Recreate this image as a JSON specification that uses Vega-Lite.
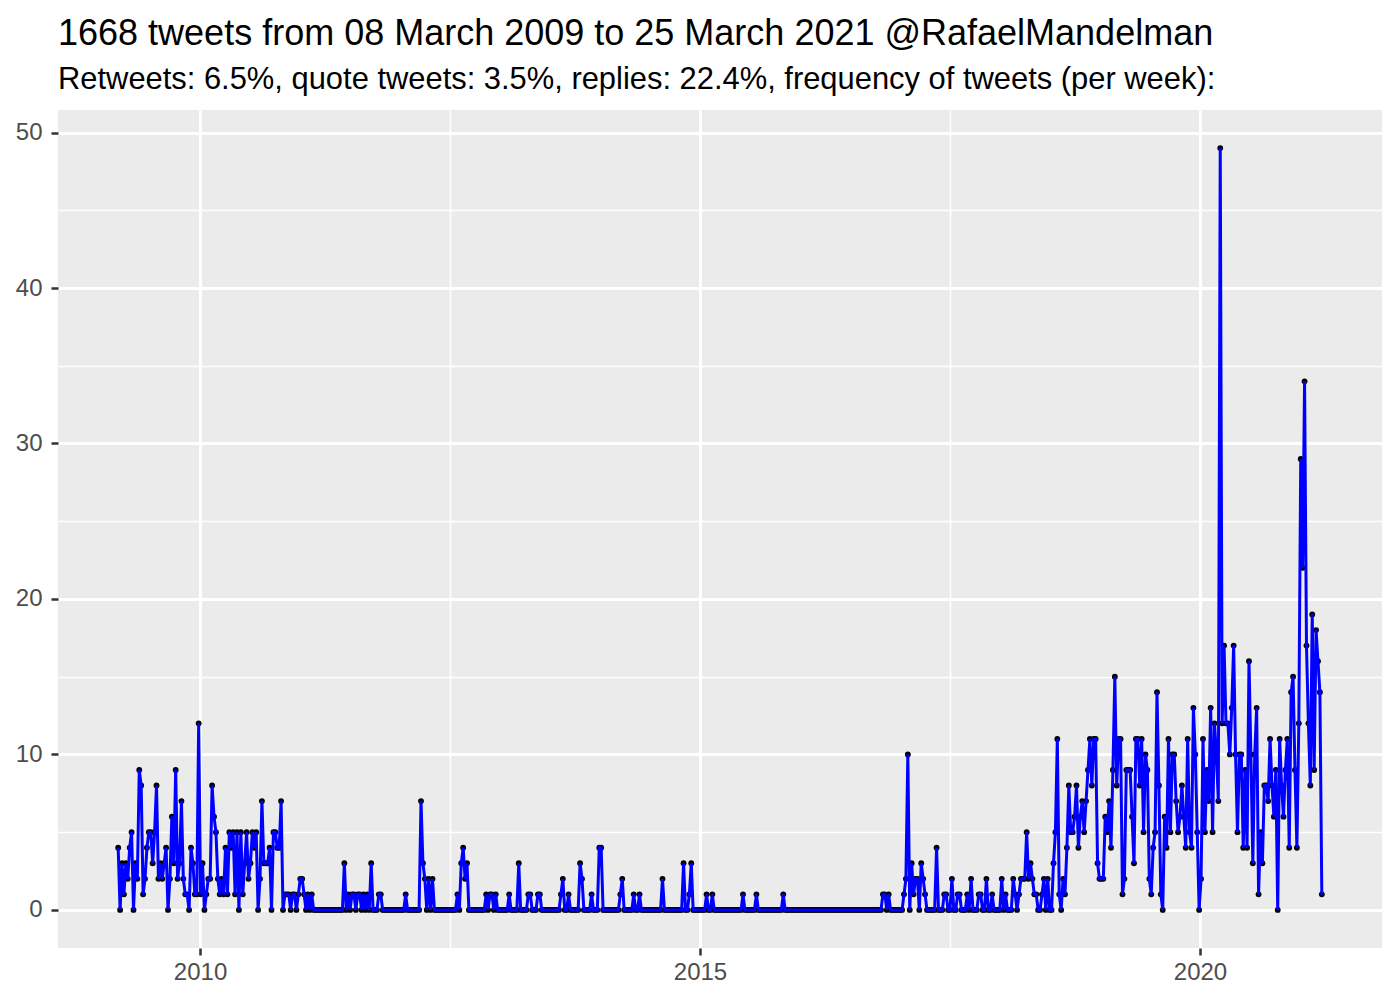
{
"$schema":"https://vega.github.io/schema/vega-lite/v6.json",
"width":1324,"height":838,
"autosize":{"type":"none"},
"padding":{"left":58,"top":110,"right":18,"bottom":52},
"background":"white",
"config":{"view":{"fill":"#EBEBEB","stroke":null},"font":"Liberation Sans"},
"title":{"text":"1668 tweets from 08 March 2009 to 25 March 2021 @RafaelMandelman","subtitle":"Retweets: 6.5%, quote tweets: 3.5%, replies: 22.4%, frequency of tweets (per week):","anchor":"start","frame":"group","fontSize":36,"fontWeight":"normal","color":"black","subtitleFontSize":30.9,"subtitleColor":"black","offset":14,"subtitlePadding":12},
"data":{"values":[
{"w":0,"n":4},{"w":1,"n":0},{"w":2,"n":3},{"w":3,"n":1},{"w":4,"n":3},{"w":5,"n":2},{"w":6,"n":4},{"w":7,"n":5},{"w":8,"n":0},{"w":9,"n":3},
{"w":10,"n":2},{"w":11,"n":9},{"w":12,"n":8},{"w":13,"n":1},{"w":14,"n":2},{"w":15,"n":4},{"w":16,"n":5},{"w":17,"n":5},{"w":18,"n":3},{"w":19,"n":5},
{"w":20,"n":8},{"w":21,"n":2},{"w":22,"n":3},{"w":23,"n":2},{"w":24,"n":3},{"w":25,"n":4},{"w":26,"n":0},{"w":27,"n":2},{"w":28,"n":6},{"w":29,"n":3},
{"w":30,"n":9},{"w":31,"n":2},{"w":32,"n":3},{"w":33,"n":7},{"w":34,"n":2},{"w":35,"n":1},{"w":36,"n":1},{"w":37,"n":0},{"w":38,"n":4},{"w":39,"n":3},
{"w":40,"n":1},{"w":41,"n":1},{"w":42,"n":12},{"w":43,"n":1},{"w":44,"n":3},{"w":45,"n":0},{"w":46,"n":1},{"w":47,"n":2},{"w":48,"n":2},{"w":49,"n":8},
{"w":50,"n":6},{"w":51,"n":5},{"w":52,"n":2},{"w":53,"n":1},{"w":54,"n":2},{"w":55,"n":1},{"w":56,"n":4},{"w":57,"n":1},{"w":58,"n":5},{"w":59,"n":4},
{"w":60,"n":5},{"w":61,"n":1},{"w":62,"n":5},{"w":63,"n":0},{"w":64,"n":5},{"w":65,"n":1},{"w":66,"n":3},{"w":67,"n":5},{"w":68,"n":2},{"w":69,"n":3},
{"w":70,"n":5},{"w":71,"n":4},{"w":72,"n":5},{"w":73,"n":0},{"w":74,"n":2},{"w":75,"n":7},{"w":76,"n":3},{"w":77,"n":3},{"w":78,"n":3},{"w":79,"n":4},
{"w":80,"n":0},{"w":81,"n":5},{"w":82,"n":5},{"w":83,"n":4},{"w":84,"n":4},{"w":85,"n":7},{"w":86,"n":0},{"w":87,"n":1},{"w":88,"n":1},{"w":89,"n":1},
{"w":90,"n":0},{"w":91,"n":1},{"w":92,"n":1},{"w":93,"n":0},{"w":94,"n":1},{"w":95,"n":2},{"w":96,"n":2},{"w":97,"n":1},{"w":98,"n":0},{"w":99,"n":1},
{"w":100,"n":0},{"w":101,"n":1},{"w":102,"n":0},{"w":103,"n":0},{"w":104,"n":0},{"w":105,"n":0},{"w":106,"n":0},{"w":107,"n":0},{"w":108,"n":0},{"w":109,"n":0},
{"w":110,"n":0},{"w":111,"n":0},{"w":112,"n":0},{"w":113,"n":0},{"w":114,"n":0},{"w":115,"n":0},{"w":116,"n":0},{"w":117,"n":0},{"w":118,"n":3},{"w":119,"n":0},
{"w":120,"n":1},{"w":121,"n":0},{"w":122,"n":1},{"w":123,"n":1},{"w":124,"n":0},{"w":125,"n":1},{"w":126,"n":1},{"w":127,"n":0},{"w":128,"n":1},{"w":129,"n":0},
{"w":130,"n":1},{"w":131,"n":0},{"w":132,"n":3},{"w":133,"n":0},{"w":134,"n":0},{"w":135,"n":0},{"w":136,"n":1},{"w":137,"n":1},{"w":138,"n":0},{"w":139,"n":0},
{"w":140,"n":0},{"w":141,"n":0},{"w":142,"n":0},{"w":143,"n":0},{"w":144,"n":0},{"w":145,"n":0},{"w":146,"n":0},{"w":147,"n":0},{"w":148,"n":0},{"w":149,"n":0},
{"w":150,"n":1},{"w":151,"n":0},{"w":152,"n":0},{"w":153,"n":0},{"w":154,"n":0},{"w":155,"n":0},{"w":156,"n":0},{"w":157,"n":0},{"w":158,"n":7},{"w":159,"n":3},
{"w":160,"n":2},{"w":161,"n":0},{"w":162,"n":2},{"w":163,"n":0},{"w":164,"n":2},{"w":165,"n":0},{"w":166,"n":0},{"w":167,"n":0},{"w":168,"n":0},{"w":169,"n":0},
{"w":170,"n":0},{"w":171,"n":0},{"w":172,"n":0},{"w":173,"n":0},{"w":174,"n":0},{"w":175,"n":0},{"w":176,"n":0},{"w":177,"n":1},{"w":178,"n":0},{"w":179,"n":3},
{"w":180,"n":4},{"w":181,"n":2},{"w":182,"n":3},{"w":183,"n":0},{"w":184,"n":0},{"w":185,"n":0},{"w":186,"n":0},{"w":187,"n":0},{"w":188,"n":0},{"w":189,"n":0},
{"w":190,"n":0},{"w":191,"n":0},{"w":192,"n":1},{"w":193,"n":0},{"w":194,"n":1},{"w":195,"n":1},{"w":196,"n":0},{"w":197,"n":1},{"w":198,"n":0},{"w":199,"n":0},
{"w":200,"n":0},{"w":201,"n":0},{"w":202,"n":0},{"w":203,"n":0},{"w":204,"n":1},{"w":205,"n":0},{"w":206,"n":0},{"w":207,"n":0},{"w":208,"n":0},{"w":209,"n":3},
{"w":210,"n":0},{"w":211,"n":0},{"w":212,"n":0},{"w":213,"n":0},{"w":214,"n":1},{"w":215,"n":1},{"w":216,"n":0},{"w":217,"n":0},{"w":218,"n":0},{"w":219,"n":1},
{"w":220,"n":1},{"w":221,"n":0},{"w":222,"n":0},{"w":223,"n":0},{"w":224,"n":0},{"w":225,"n":0},{"w":226,"n":0},{"w":227,"n":0},{"w":228,"n":0},{"w":229,"n":0},
{"w":230,"n":0},{"w":231,"n":1},{"w":232,"n":2},{"w":233,"n":0},{"w":234,"n":0},{"w":235,"n":1},{"w":236,"n":0},{"w":237,"n":0},{"w":238,"n":0},{"w":239,"n":0},
{"w":240,"n":0},{"w":241,"n":3},{"w":242,"n":2},{"w":243,"n":0},{"w":244,"n":0},{"w":245,"n":0},{"w":246,"n":0},{"w":247,"n":1},{"w":248,"n":0},{"w":249,"n":0},
{"w":250,"n":0},{"w":251,"n":4},{"w":252,"n":4},{"w":253,"n":0},{"w":254,"n":0},{"w":255,"n":0},{"w":256,"n":0},{"w":257,"n":0},{"w":258,"n":0},{"w":259,"n":0},
{"w":260,"n":0},{"w":261,"n":0},{"w":262,"n":1},{"w":263,"n":2},{"w":264,"n":0},{"w":265,"n":0},{"w":266,"n":0},{"w":267,"n":0},{"w":268,"n":0},{"w":269,"n":1},
{"w":270,"n":0},{"w":271,"n":0},{"w":272,"n":1},{"w":273,"n":0},{"w":274,"n":0},{"w":275,"n":0},{"w":276,"n":0},{"w":277,"n":0},{"w":278,"n":0},{"w":279,"n":0},
{"w":280,"n":0},{"w":281,"n":0},{"w":282,"n":0},{"w":283,"n":0},{"w":284,"n":2},{"w":285,"n":0},{"w":286,"n":0},{"w":287,"n":0},{"w":288,"n":0},{"w":289,"n":0},
{"w":290,"n":0},{"w":291,"n":0},{"w":292,"n":0},{"w":293,"n":0},{"w":294,"n":0},{"w":295,"n":3},{"w":296,"n":0},{"w":297,"n":0},{"w":298,"n":1},{"w":299,"n":3},
{"w":300,"n":0},{"w":301,"n":0},{"w":302,"n":0},{"w":303,"n":0},{"w":304,"n":0},{"w":305,"n":0},{"w":306,"n":0},{"w":307,"n":1},{"w":308,"n":0},{"w":309,"n":0},
{"w":310,"n":1},{"w":311,"n":0},{"w":312,"n":0},{"w":313,"n":0},{"w":314,"n":0},{"w":315,"n":0},{"w":316,"n":0},{"w":317,"n":0},{"w":318,"n":0},{"w":319,"n":0},
{"w":320,"n":0},{"w":321,"n":0},{"w":322,"n":0},{"w":323,"n":0},{"w":324,"n":0},{"w":325,"n":0},{"w":326,"n":1},{"w":327,"n":0},{"w":328,"n":0},{"w":329,"n":0},
{"w":330,"n":0},{"w":331,"n":0},{"w":332,"n":0},{"w":333,"n":1},{"w":334,"n":0},{"w":335,"n":0},{"w":336,"n":0},{"w":337,"n":0},{"w":338,"n":0},{"w":339,"n":0},
{"w":340,"n":0},{"w":341,"n":0},{"w":342,"n":0},{"w":343,"n":0},{"w":344,"n":0},{"w":345,"n":0},{"w":346,"n":0},{"w":347,"n":1},{"w":348,"n":0},{"w":349,"n":0},
{"w":350,"n":0},{"w":351,"n":0},{"w":352,"n":0},{"w":353,"n":0},{"w":354,"n":0},{"w":355,"n":0},{"w":356,"n":0},{"w":357,"n":0},{"w":358,"n":0},{"w":359,"n":0},
{"w":360,"n":0},{"w":361,"n":0},{"w":362,"n":0},{"w":363,"n":0},{"w":364,"n":0},{"w":365,"n":0},{"w":366,"n":0},{"w":367,"n":0},{"w":368,"n":0},{"w":369,"n":0},
{"w":370,"n":0},{"w":371,"n":0},{"w":372,"n":0},{"w":373,"n":0},{"w":374,"n":0},{"w":375,"n":0},{"w":376,"n":0},{"w":377,"n":0},{"w":378,"n":0},{"w":379,"n":0},
{"w":380,"n":0},{"w":381,"n":0},{"w":382,"n":0},{"w":383,"n":0},{"w":384,"n":0},{"w":385,"n":0},{"w":386,"n":0},{"w":387,"n":0},{"w":388,"n":0},{"w":389,"n":0},
{"w":390,"n":0},{"w":391,"n":0},{"w":392,"n":0},{"w":393,"n":0},{"w":394,"n":0},{"w":395,"n":0},{"w":396,"n":0},{"w":397,"n":0},{"w":398,"n":0},{"w":399,"n":1},
{"w":400,"n":1},{"w":401,"n":0},{"w":402,"n":1},{"w":403,"n":0},{"w":404,"n":0},{"w":405,"n":0},{"w":406,"n":0},{"w":407,"n":0},{"w":408,"n":0},{"w":409,"n":0},
{"w":410,"n":1},{"w":411,"n":2},{"w":412,"n":10},{"w":413,"n":0},{"w":414,"n":3},{"w":415,"n":1},{"w":416,"n":2},{"w":417,"n":2},{"w":418,"n":0},{"w":419,"n":3},
{"w":420,"n":2},{"w":421,"n":1},{"w":422,"n":0},{"w":423,"n":0},{"w":424,"n":0},{"w":425,"n":0},{"w":426,"n":0},{"w":427,"n":4},{"w":428,"n":0},{"w":429,"n":0},
{"w":430,"n":0},{"w":431,"n":1},{"w":432,"n":1},{"w":433,"n":0},{"w":434,"n":0},{"w":435,"n":2},{"w":436,"n":0},{"w":437,"n":0},{"w":438,"n":1},{"w":439,"n":1},
{"w":440,"n":0},{"w":441,"n":0},{"w":442,"n":0},{"w":443,"n":1},{"w":444,"n":0},{"w":445,"n":2},{"w":446,"n":0},{"w":447,"n":0},{"w":448,"n":0},{"w":449,"n":1},
{"w":450,"n":1},{"w":451,"n":0},{"w":452,"n":0},{"w":453,"n":2},{"w":454,"n":0},{"w":455,"n":0},{"w":456,"n":1},{"w":457,"n":0},{"w":458,"n":0},{"w":459,"n":0},
{"w":460,"n":0},{"w":461,"n":2},{"w":462,"n":0},{"w":463,"n":1},{"w":464,"n":0},{"w":465,"n":0},{"w":466,"n":0},{"w":467,"n":2},{"w":468,"n":1},{"w":469,"n":0},
{"w":470,"n":1},{"w":471,"n":2},{"w":472,"n":2},{"w":473,"n":2},{"w":474,"n":5},{"w":475,"n":2},{"w":476,"n":3},{"w":477,"n":2},{"w":478,"n":1},{"w":479,"n":1},
{"w":480,"n":0},{"w":481,"n":0},{"w":482,"n":1},{"w":483,"n":2},{"w":484,"n":0},{"w":485,"n":2},{"w":486,"n":0},{"w":487,"n":0},{"w":488,"n":3},{"w":489,"n":5},
{"w":490,"n":11},{"w":491,"n":1},{"w":492,"n":0},{"w":493,"n":2},{"w":494,"n":1},{"w":495,"n":4},{"w":496,"n":8},{"w":497,"n":5},{"w":498,"n":5},{"w":499,"n":6},
{"w":500,"n":8},{"w":501,"n":4},{"w":502,"n":6},{"w":503,"n":7},{"w":504,"n":5},{"w":505,"n":7},{"w":506,"n":9},{"w":507,"n":11},{"w":508,"n":8},{"w":509,"n":11},
{"w":510,"n":11},{"w":511,"n":3},{"w":512,"n":2},{"w":513,"n":2},{"w":514,"n":2},{"w":515,"n":6},{"w":516,"n":5},{"w":517,"n":7},{"w":518,"n":4},{"w":519,"n":9},
{"w":520,"n":15},{"w":521,"n":8},{"w":522,"n":11},{"w":523,"n":11},{"w":524,"n":1},{"w":525,"n":2},{"w":526,"n":9},{"w":527,"n":9},{"w":528,"n":9},{"w":529,"n":6},
{"w":530,"n":3},{"w":531,"n":11},{"w":532,"n":11},{"w":533,"n":8},{"w":534,"n":11},{"w":535,"n":5},{"w":536,"n":10},{"w":537,"n":9},{"w":538,"n":2},{"w":539,"n":1},
{"w":540,"n":4},{"w":541,"n":5},{"w":542,"n":14},{"w":543,"n":8},{"w":544,"n":1},{"w":545,"n":0},{"w":546,"n":6},{"w":547,"n":4},{"w":548,"n":11},{"w":549,"n":5},
{"w":550,"n":10},{"w":551,"n":10},{"w":552,"n":7},{"w":553,"n":5},{"w":554,"n":6},{"w":555,"n":8},{"w":556,"n":6},{"w":557,"n":4},{"w":558,"n":11},{"w":559,"n":5},
{"w":560,"n":4},{"w":561,"n":13},{"w":562,"n":10},{"w":563,"n":5},{"w":564,"n":0},{"w":565,"n":2},{"w":566,"n":11},{"w":567,"n":5},{"w":568,"n":9},{"w":569,"n":7},
{"w":570,"n":13},{"w":571,"n":5},{"w":572,"n":12},{"w":573,"n":10},{"w":574,"n":7},{"w":575,"n":49},{"w":576,"n":12},{"w":577,"n":17},{"w":578,"n":12},{"w":579,"n":12},
{"w":580,"n":10},{"w":581,"n":13},{"w":582,"n":17},{"w":583,"n":10},{"w":584,"n":5},{"w":585,"n":10},{"w":586,"n":10},{"w":587,"n":4},{"w":588,"n":9},{"w":589,"n":4},
{"w":590,"n":16},{"w":591,"n":10},{"w":592,"n":3},{"w":593,"n":10},{"w":594,"n":13},{"w":595,"n":1},{"w":596,"n":5},{"w":597,"n":3},{"w":598,"n":8},{"w":599,"n":8},
{"w":600,"n":7},{"w":601,"n":11},{"w":602,"n":8},{"w":603,"n":6},{"w":604,"n":9},{"w":605,"n":0},{"w":606,"n":11},{"w":607,"n":8},{"w":608,"n":6},{"w":609,"n":9},
{"w":610,"n":11},{"w":611,"n":4},{"w":612,"n":14},{"w":613,"n":15},{"w":614,"n":9},{"w":615,"n":4},{"w":616,"n":12},{"w":617,"n":29},{"w":618,"n":22},{"w":619,"n":34},
{"w":620,"n":17},{"w":621,"n":12},{"w":622,"n":8},{"w":623,"n":19},{"w":624,"n":9},{"w":625,"n":18},{"w":626,"n":16},{"w":627,"n":14},{"w":628,"n":1}
]},
"layer":[
{"mark":{"type":"point","filled":true,"color":"black","size":34,"opacity":1},
 "encoding":{
  "x":{"field":"w","type":"quantitative","scale":{"domain":[-31.4,659.4],"nice":false,"zero":false},
   "axis":{"orient":"bottom","title":null,"values":[42.71,303.57,564.43],"labelExpr":"datum.value < 100 ? '2010' : datum.value < 400 ? '2015' : '2020'","labelFontSize":24,"labelColor":"#4D4D4D","labelPadding":5,"tickSize":7,"tickWidth":2.5,"tickColor":"#333333","domain":false,"grid":true,"gridColor":"white","gridWidth":3,"gridOpacity":1}},
  "y":{"field":"n","type":"quantitative","scale":{"domain":[-2.45,51.45],"nice":false,"zero":false},
   "axis":{"orient":"left","title":null,"values":[0,10,20,30,40,50],"labelFontSize":24,"labelColor":"#4D4D4D","labelPadding":9,"tickSize":7,"tickWidth":2.5,"tickColor":"#333333","domain":false,"grid":true,"gridColor":"white","gridWidth":3,"gridOpacity":1}}}},
{"mark":{"type":"line","color":"blue","strokeWidth":3},
 "encoding":{
  "x":{"field":"w","type":"quantitative","axis":{"orient":"bottom","title":null,"values":[173.14,434.0],"labels":false,"ticks":false,"domain":false,"grid":true,"gridColor":"white","gridWidth":1.5,"gridOpacity":1}},
  "y":{"field":"n","type":"quantitative","axis":{"orient":"left","title":null,"values":[5,15,25,35,45],"labels":false,"ticks":false,"domain":false,"grid":true,"gridColor":"white","gridWidth":1.5,"gridOpacity":1}}}}
],
"resolve":{"axis":{"x":"independent","y":"independent"}}
}
